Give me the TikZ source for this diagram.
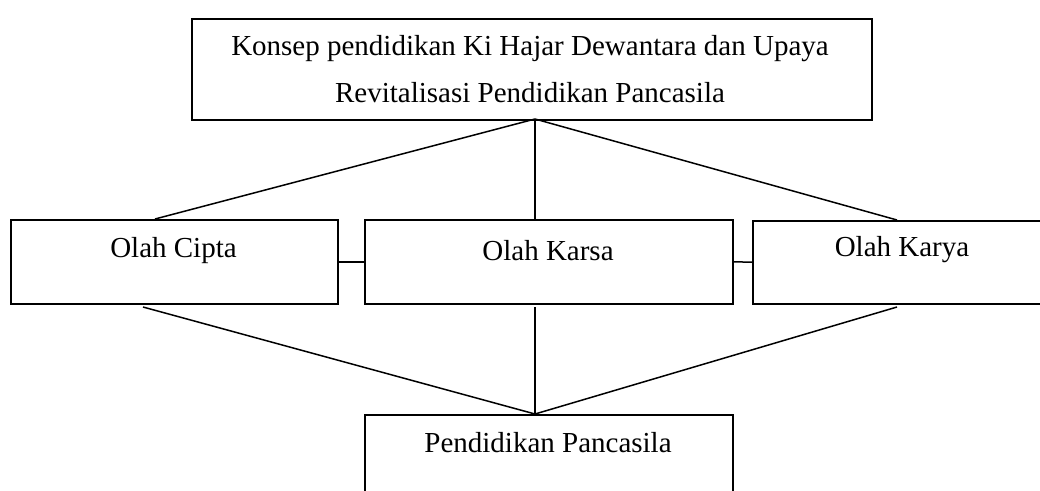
\documentclass[tikz,border=0pt]{standalone}
\usepackage{fontspec}
\setmainfont{Liberation Serif}
\begin{document}
\begin{tikzpicture}[x=1pt,y=-1pt,
  box/.style={draw, line width=1.5pt, inner sep=0pt, anchor=north west},
  lbl/.style={font=\fontsize{29}{47}\selectfont, anchor=base, inner sep=0pt},
  conn/.style={line width=1.5pt}]
\useasboundingbox (0,0) rectangle (1040,490);
\clip (0,0) rectangle (1040,490);
% boxes
\node[box, minimum width=680pt, minimum height=101pt] (top) at (191,18) {};
\node[box, minimum width=327pt, minimum height=84pt] (cipta) at (10,219) {};
\node[box, minimum width=368pt, minimum height=84pt] (karsa) at (364,219) {};
\node[box, minimum width=300pt, minimum height=83pt] (karya) at (752,220) {};
\node[box, minimum width=368pt, minimum height=100pt] (pp) at (364,414) {};
% texts
\node[lbl] (t1) at (530,55) {Konsep pendidikan Ki Hajar Dewantara dan Upaya};
\node[lbl] (t2) at (530,102) {Revitalisasi Pendidikan Pancasila};
\node[lbl] (tc) at (173.5,257) {Olah Cipta};
\node[lbl] (tk) at (548,260) {Olah Karsa};
\node[lbl] (ty) at (902,256) {Olah Karya};
\node[lbl] (tp) at (548,452) {Pendidikan Pancasila};
% connector points
\coordinate (apex) at (535,119);
\coordinate (ciptaT) at (155,219);
\coordinate (karsaT) at (535,219);
\coordinate (karyaT) at (897,220);
\coordinate (ciptaB) at (143,307);
\coordinate (karsaB) at (535,307);
\coordinate (karyaB) at (897,307);
\coordinate (ppT) at (535,414);
% connectors
\draw[conn] (apex) -- (ciptaT);
\draw[conn] (apex) -- (karsaT);
\draw[conn] (apex) -- (karyaT);
\draw[conn] (cipta.east) -- (karsa.west);
\draw[conn] (karsa.east) -- (karya.west);
\draw[conn] (ciptaB) -- (ppT);
\draw[conn] (karsaB) -- (ppT);
\draw[conn] (karyaB) -- (ppT);
\end{tikzpicture}
\end{document}
